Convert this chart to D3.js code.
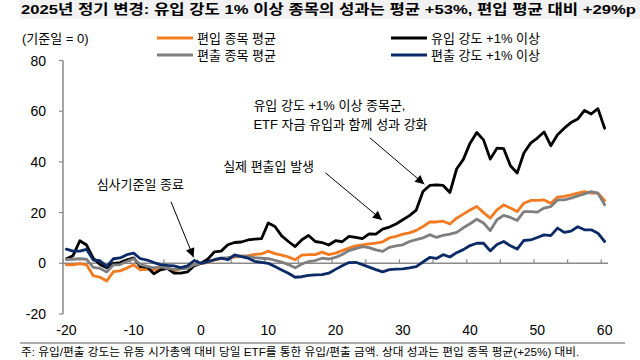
<!DOCTYPE html>
<html><head><meta charset="utf-8">
<script src="https://cdn.jsdelivr.net/npm/d3@7/dist/d3.min.js"></script>
<style>
html,body{margin:0;padding:0;background:#fff;}
svg{display:block;font-family:"Liberation Sans","Noto Sans CJK KR",sans-serif;}
</style></head>
<body><svg id="c" width="640" height="360"></svg>
<script>
const title = "2025년 정기 변경: 유입 강도 1% 이상 종목의 성과는 평균 +53%, 편입 평균 대비 +29%p";
const footnote = "주: 유입/편출 강도는 유동 시가총액 대비 당일 ETF를 통한 유입/편출 금액. 상대 성과는 편입 종목 평균(+25%) 대비.";
const unitLabel = "(기준일 = 0)";
const days = d3.range(-20, 61);
const seriesNames = ["편입 종목 평균", "유입 강도 +1% 이상", "편출 종목 평균", "편출 강도 +1% 이상"];
const seriesColors = ["#f47a20", "#000000", "#7f7f7f", "#0b2a66"];
const inclAvg = [-0.6,-0.6,-0.1,-0.6,-4.9,-5.5,-7.0,-3.3,-3.0,-1.9,-0.6,-2.6,-2.3,-2.6,-2,-1.7,-3,-2,-1.3,-0.6,0,
 0.3,1.3,1.8,2,2.4,2.8,3,3.5,3.7,4.8,3.8,3.2,2.5,1.4,3.2,3.4,3.4,4.4,3.4,4,
 5,6,6.9,7.3,7.7,8,8.5,10,10.6,11.5,12,13,14.5,16.3,16.3,16.6,15.5,17.8,19.4,21,
 22.4,20,17.8,21.1,23,21.8,20.4,23.7,24.8,24.8,25,23.7,26.1,26.4,27,27.7,28.3,27.7,27.7,24.8];
const inflowHigh = [1.8,3,8.9,7.2,2,-0.5,-1.8,0,0.3,1.4,2.1,-1.3,-1.5,-4.1,-2.6,-2,-3.9,-3.9,-3.4,-1,0,
 1.6,4.5,4.8,7.3,8.2,8.4,9.2,9.5,9.7,15.9,14.5,10.8,8.6,6.6,9.3,11,8.6,8.2,7.2,8.9,
 8.5,10.6,10.2,9.7,11.6,11.5,13.5,14.3,15.5,17.2,18.8,21,28.3,30.7,30.9,30.7,27.9,37.2,41,47.4,
 51.6,48.7,41.1,45.4,45.2,38.5,35.6,43.5,47.4,49.4,51.8,46.4,50.7,53.3,55.5,56.9,60.3,58.9,61,53.3];
const exclAvg = [1.5,1.6,1.8,1.6,-1.6,-2,-3.4,-0.6,-0.5,0.7,1.8,-0.5,-1.2,-1.8,-1.3,-2,-2.4,-2.2,-2,-0.6,0,
 0.5,1.5,2,2.2,2.7,2.8,2.7,2.2,2,1.8,1.2,0.5,-0.5,-1.8,-0.3,0.7,1.1,2,1.7,2.3,
 3.5,5,5.8,6.6,6.2,5.3,4.7,6.3,6.9,7.3,8.6,9.3,10,11.3,10.2,11,11.5,12.2,14,15.6,
 17.4,15.9,12.9,17.2,18.9,18.1,16.9,20.4,20.4,20.2,21.8,22.4,25,25,25.7,26.6,27.4,28.3,27.7,23.1];
const outflowHigh = [5.6,4.8,4.8,5.5,1.3,1,-1.2,1.8,2.1,3.4,4,1.8,1.3,0.3,-0.5,-0.8,-1,-1.7,-1,1.1,0,
 0.7,1.4,2,1.4,3.3,2.6,2,0.8,0.4,0,-1.3,-2.6,-3.9,-5.5,-5.3,-4.8,-4.6,-4.5,-3.9,-2.4,
 -1,0.3,0.4,-0.5,-1.5,-2.5,-3.4,-2.5,-2.3,-2.2,-1.8,-1.3,0.5,2.3,1.9,3.4,2.5,4.2,5.4,7,
 7.9,7.9,4.9,7.4,8.6,6.9,5.6,9,9.2,10.2,11.2,10.9,13.9,12.2,12.7,14.4,13.2,13.2,11.9,8.6];
const xTickLabels = [-20,-10,0,10,20,30,40,50,60];
const xTickMarks = [-20,-15,-10,-5,0,5,10,15,20,25,30,35,40,45,50,55,60];
const yTicks = [-20,0,20,40,60,80];
// annotations in data coordinates: text anchor (t,v) and arrow from (t,v) to (t,v)
const annotations = [
  {lines:["심사기준일 종료"], tx:-15.5, ty:29.2, from:[-4.45,24.3], to:[-1.1,2.4]},
  {lines:["실제 편출입 발생"], tx:3.3, ty:36.6, from:[18.5,35.7], to:[26.9,17.1]},
  {lines:["유입 강도 +1% 이상 종목군,","ETF 자금 유입과 함께 성과 강화"], tx:7.8, ty:60.4, from:[25.1,49.5], to:[33.2,31.2]}
];

const svg = d3.select("#c");
const defs = svg.append("defs");
defs.append("marker").attr("id","ah").attr("viewBox","0 0 10 10").attr("refX",10).attr("refY",5)
  .attr("markerWidth",11).attr("markerHeight",9).attr("markerUnits","userSpaceOnUse").attr("orient","auto")
  .append("path").attr("d","M0,0L10,5L0,10Z").attr("fill","#000");

// title band
svg.append("rect").attr("x",20).attr("y",0).attr("width",620).attr("height",19).attr("fill","#f2f2f2");
svg.append("text").attr("x",21).attr("y",14).attr("font-size",13.5).attr("font-weight","bold")
  .attr("textLength",615).attr("lengthAdjust","spacingAndGlyphs").attr("fill","#000").text(title);

const x = d3.scalePoint().domain(days).range([63,608]).padding(0.5);
const y = d3.scaleLinear().domain([-20,80]).range([314,60.5]);
const step = x.step();
const axisColor = "#898989";

// y axis
const yAxis = svg.append("g");
yAxis.append("line").attr("x1",63).attr("x2",63).attr("y1",y(80)).attr("y2",y(-20)).attr("stroke",axisColor).attr("stroke-width",1.5);
yTicks.forEach(v=>{
  yAxis.append("line").attr("x1",59).attr("x2",63).attr("y1",y(v)).attr("y2",y(v)).attr("stroke",axisColor).attr("stroke-width",1.2);
  yAxis.append("text").attr("x",46).attr("y",y(v)+5).attr("text-anchor","end").attr("font-size",14).attr("fill","#000").text(v);
});

// x axis at 0
const xAxis = svg.append("g");
xAxis.append("line").attr("x1",63).attr("x2",x(60)+step/2).attr("y1",y(0)).attr("y2",y(0)).attr("stroke",axisColor).attr("stroke-width",1.5);
xTickMarks.forEach(t=>{
  const px = x(t)-step/2;
  xAxis.append("line").attr("x1",px).attr("x2",px).attr("y1",y(0)-4).attr("y2",y(0)).attr("stroke",axisColor).attr("stroke-width",1.2);
});
xTickLabels.forEach(t=>{
  xAxis.append("text").attr("x",x(t)).attr("y",335).attr("text-anchor","middle").attr("font-size",14).attr("fill","#000").text(t);
});

// series lines
const allSeries = [inclAvg, inflowHigh, exclAvg, outflowHigh];
const line = d3.line().x((d,i)=>x(days[i])).y(d=>y(d));
allSeries.forEach((s,k)=>{
  svg.append("path").datum(s).attr("d",line).attr("fill","none").attr("stroke",seriesColors[k])
    .attr("stroke-width",2.8).attr("stroke-linejoin","round").attr("stroke-linecap","round");
});

// legend
svg.append("text").attr("x",22).attr("y",43).attr("font-size",13).attr("fill","#000").text(unitLabel);
const legPos = [[157,38],[391,38],[157,55],[391,55]];
seriesNames.forEach((n,k)=>{
  const [lx,ly] = legPos[k];
  svg.append("line").attr("x1",lx).attr("x2",lx+36).attr("y1",ly).attr("y2",ly).attr("stroke",seriesColors[k]).attr("stroke-width",2.8);
  svg.append("text").attr("x",lx+40).attr("y",ly+5).attr("font-size",13).attr("fill","#000").text(n);
});

// annotations
annotations.forEach(a=>{
  a.lines.forEach((ln,j)=>{
    svg.append("text").attr("x",63 + (a.tx+20+0.5)*step).attr("y",y(a.ty)+j*19).attr("font-size",13).attr("fill","#000").text(ln);
  });
  const fx = 63 + (a.from[0]+20+0.5)*step, tx = 63 + (a.to[0]+20+0.5)*step;
  svg.append("line").attr("x1",fx).attr("y1",y(a.from[1])).attr("x2",tx).attr("y2",y(a.to[1]))
    .attr("stroke","#000").attr("stroke-width",1).attr("marker-end","url(#ah)");
});

// footnote
svg.append("line").attr("x1",20).attr("x2",625).attr("y1",343).attr("y2",343).attr("stroke","#595959").attr("stroke-width",1);
svg.append("text").attr("x",21).attr("y",356).attr("font-size",11.7).attr("fill","#000").text(footnote);
</script></body></html>
